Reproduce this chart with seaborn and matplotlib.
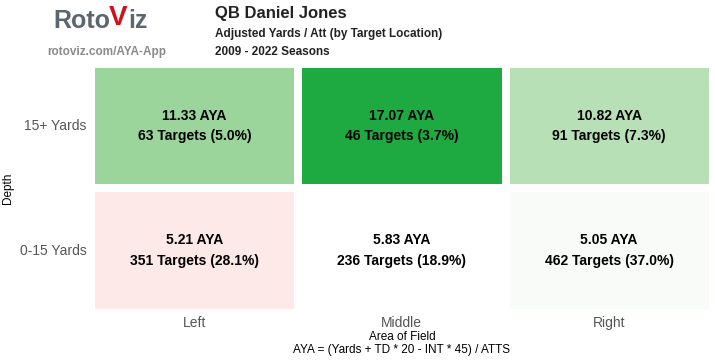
import numpy as np
import pandas as pd
import matplotlib
matplotlib.use("Agg")
import matplotlib.pyplot as plt
from matplotlib.colors import ListedColormap
import seaborn as sns

areas = ["Left", "Middle", "Right"]
depths = ["15+ Yards", "0-15 Yards"]
aya = [[11.33, 17.07, 10.82], [5.21, 5.83, 5.05]]
targets = [[63, 46, 91], [351, 236, 462]]
pct = [[5.0, 3.7, 7.3], [28.1, 18.9, 37.0]]
cell_colors = ["#9bd59b", "#1eaa40", "#b7e0b7", "#fde9e7", "#ffffff", "#f9fbf9"]

sns.set_theme(style="white")
plt.rcParams['font.family'] = ['Liberation Sans', 'DejaVu Sans']

color_idx = np.arange(6).reshape(2, 3)
df = pd.DataFrame(color_idx, index=depths, columns=areas)
labels = np.array([[f"{aya[r][c]:.2f} AYA\n{targets[r][c]} Targets ({pct[r][c]:.1f}%)"
                    for c in range(3)] for r in range(2)])

fig = plt.figure(figsize=(7.15, 3.6), dpi=100)
ax = fig.add_axes([0.127, 0.1306, 0.870, 0.692])
sns.heatmap(df, ax=ax, cmap=ListedColormap(cell_colors), vmin=-0.5, vmax=5.5,
            cbar=False, annot=labels, fmt="", linewidths=5.5, linecolor="white",
            annot_kws={"fontsize": 10, "fontweight": "bold", "color": "black",
                       "linespacing": 1.6})
ax.set_xlabel("Area of Field\nAYA = (Yards + TD * 20 - INT * 45) / ATTS",
              fontsize=8.5, color="black", labelpad=1, linespacing=1.1)
ax.set_ylabel("Depth", fontsize=8.5, color="black", labelpad=4)
ax.tick_params(axis="both", length=0, colors="#555555", labelsize=10)
ax.tick_params(axis="x", pad=2)
ax.tick_params(axis="y", pad=3)
plt.setp(ax.get_yticklabels(), rotation=0)
for s in ax.spines.values():
    s.set_visible(False)

# header
fig.text(0.301, 0.963, "QB Daniel Jones", fontsize=12, fontweight="bold", color="#222222", va="center")
fig.text(0.301, 0.905, "Adjusted Yards / Att (by Target Location)", fontsize=8.5, fontweight="bold",
         color="#222222", va="center")
fig.text(0.301, 0.855, "2009 - 2022 Seasons", fontsize=8.5, fontweight="bold", color="#222222", va="center")

# logo
fig.text(0.074, 0.942, "Roto", fontsize=18, fontweight="bold", color="#5b6670", va="center")
fig.text(0.152, 0.950, "V", fontsize=20, fontweight="bold", color="#d0121b", va="center")
fig.text(0.180, 0.942, "iz", fontsize=18, fontweight="bold", color="#5b6670", va="center")
fig.text(0.066, 0.855, "rotoviz.com/AYA-App", fontsize=8.5, fontweight="bold", color="#8a8a8a", va="center")

fig.savefig("out.png", dpi=100)
